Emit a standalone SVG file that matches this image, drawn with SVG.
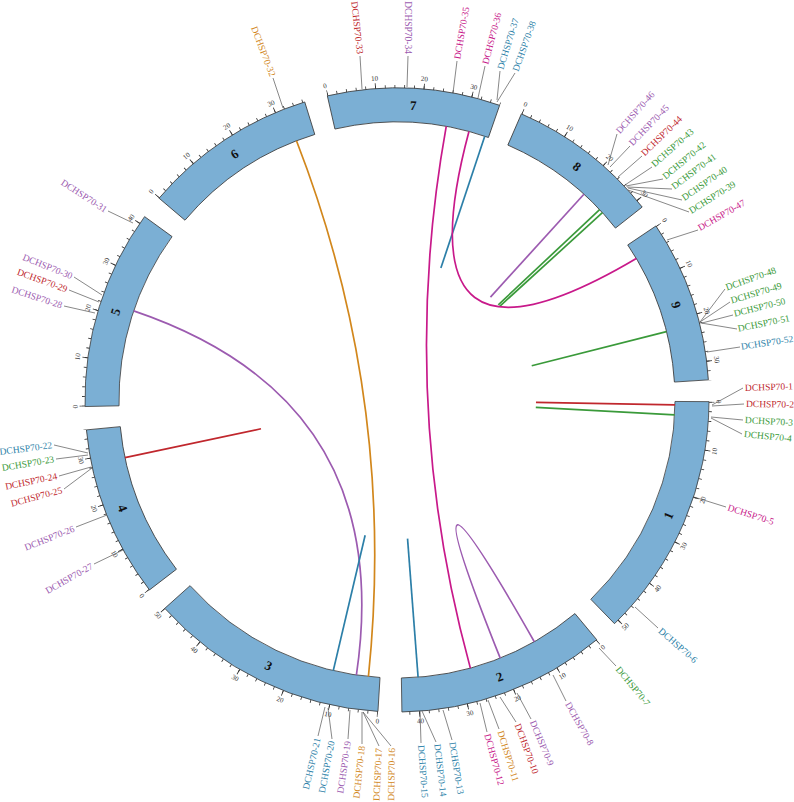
<svg xmlns="http://www.w3.org/2000/svg" width="794" height="802" viewBox="0 0 794 802">
<style>
.band{fill:none;stroke:#7BAFD4;stroke-width:34}
.ol{fill:none;stroke:#3c3c3c;stroke-width:0.8}
.tk{fill:none;stroke:#333;stroke-width:3}
.tkM{fill:none;stroke:#333;stroke-width:5.5}
.tl{font-family:"Liberation Serif",serif;font-size:7px;fill:#333;text-anchor:middle;dominant-baseline:central}
.sn{font-family:"Liberation Serif",serif;font-size:13px;font-weight:bold;fill:#111;text-anchor:middle;dominant-baseline:central}
.gl{font-family:"Liberation Serif",serif;font-size:9.5px;dominant-baseline:central}
.s{text-anchor:start}.e{text-anchor:end}
.ld{fill:none;stroke:#555;stroke-width:0.7}
.lk{fill:none;stroke-width:1.7}
.r{fill:#C0272D}.g{fill:#3A9A3A}.m{fill:#C8198A}.p{fill:#9C5BB0}.t{fill:#2C7FA8}.o{fill:#D2871C}
.kr{stroke:#C0272D}.kg{stroke:#3A9A3A}.km{stroke:#C8198A}.kp{stroke:#9C5BB0}.kt{stroke:#2C7FA8}.ko{stroke:#D2871C}
</style>
<defs>
<path id="c295" pathLength="360" d="M295 0A295 295 0 1 1 -295 0A295 295 0 1 1 295 0"/>
<path id="c278" pathLength="360" d="M278 0A278 278 0 1 1 -278 0A278 278 0 1 1 278 0"/>
<path id="c312" pathLength="360" d="M312 0A312 312 0 1 1 -312 0A312 312 0 1 1 312 0"/>
<path id="ct1" pathLength="360" d="M313.5 0A313.5 313.5 0 1 1 -313.5 0A313.5 313.5 0 1 1 313.5 0"/>
<path id="ct2" pathLength="360" d="M314.75 0A314.75 314.75 0 1 1 -314.75 0A314.75 314.75 0 1 1 314.75 0"/>
<path id="cm" pathLength="360" d="M316 0A316 316 0 1 1 -316 0A316 316 0 1 1 316 0"/>
<mask id="m1" maskUnits="userSpaceOnUse" x="-400" y="-400" width="800" height="800"><use href="#cm" fill="none" stroke="#fff" stroke-width="14" stroke-dasharray="45.6 400"/></mask>
<mask id="m2" maskUnits="userSpaceOnUse" x="-400" y="-400" width="800" height="800"><use href="#cm" fill="none" stroke="#fff" stroke-width="14" stroke-dasharray="39.0 400"/></mask>
<mask id="m3" maskUnits="userSpaceOnUse" x="-400" y="-400" width="800" height="800"><use href="#cm" fill="none" stroke="#fff" stroke-width="14" stroke-dasharray="44.7 400"/></mask>
<mask id="m4" maskUnits="userSpaceOnUse" x="-400" y="-400" width="800" height="800"><use href="#cm" fill="none" stroke="#fff" stroke-width="14" stroke-dasharray="32.1 400"/></mask>
<mask id="m5" maskUnits="userSpaceOnUse" x="-400" y="-400" width="800" height="800"><use href="#cm" fill="none" stroke="#fff" stroke-width="14" stroke-dasharray="37.3 400"/></mask>
<mask id="m6" maskUnits="userSpaceOnUse" x="-400" y="-400" width="800" height="800"><use href="#cm" fill="none" stroke="#fff" stroke-width="14" stroke-dasharray="32.6 400"/></mask>
<mask id="m7" maskUnits="userSpaceOnUse" x="-400" y="-400" width="800" height="800"><use href="#cm" fill="none" stroke="#fff" stroke-width="14" stroke-dasharray="32.2 400"/></mask>
<mask id="m8" maskUnits="userSpaceOnUse" x="-400" y="-400" width="800" height="800"><use href="#cm" fill="none" stroke="#fff" stroke-width="14" stroke-dasharray="28.4 400"/></mask>
<mask id="m9" maskUnits="userSpaceOnUse" x="-400" y="-400" width="800" height="800"><use href="#cm" fill="none" stroke="#fff" stroke-width="14" stroke-dasharray="30.3 400"/></mask>
</defs>
<rect width="794" height="802" fill="#fff"/>

<g id="chr1" transform="translate(397 400) rotate(0.3)">
<use href="#c295" class="band" stroke-dasharray="45.5 400"/>
<g mask="url(#m1)"><use href="#ct1" class="tk" stroke-dasharray="0.15 1.63"/><use href="#ct2" class="tkM" stroke-dasharray="0.15 8.75"/></g>
<use href="#c278" class="ol" stroke-dasharray="45.5 400"/><use href="#c312" class="ol" stroke-dasharray="45.5 400"/>
<line x1="278" x2="312" class="ol"/><line x1="278" x2="312" class="ol" transform="rotate(45.5)"/>
<text class="tl" transform="rotate(0) translate(322 0) rotate(-90)">0</text>
<text class="tl" transform="rotate(8.9) translate(322 0) rotate(-90)">10</text>
<text class="tl" transform="rotate(17.8) translate(322 0) rotate(-90)">20</text>
<text class="tl" transform="rotate(26.7) translate(322 0) rotate(-90)">30</text>
<text class="tl" transform="rotate(35.6) translate(322 0) rotate(-90)">40</text>
<text class="tl" transform="rotate(44.5) translate(322 0) rotate(-90)">50</text>
<text class="sn" transform="rotate(22.75) translate(295 0) rotate(-90)">1</text>
</g>

<g id="chr2" transform="translate(397 400) rotate(50.2)">
<use href="#c295" class="band" stroke-dasharray="38.9 400"/>
<g mask="url(#m2)"><use href="#ct1" class="tk" stroke-dasharray="0.15 1.63"/><use href="#ct2" class="tkM" stroke-dasharray="0.15 8.75"/></g>
<use href="#c278" class="ol" stroke-dasharray="38.9 400"/><use href="#c312" class="ol" stroke-dasharray="38.9 400"/>
<line x1="278" x2="312" class="ol"/><line x1="278" x2="312" class="ol" transform="rotate(38.9)"/>
<text class="tl" transform="rotate(0) translate(322 0) rotate(-90)">0</text>
<text class="tl" transform="rotate(8.9) translate(322 0) rotate(-90)">10</text>
<text class="tl" transform="rotate(17.8) translate(322 0) rotate(-90)">20</text>
<text class="tl" transform="rotate(26.7) translate(322 0) rotate(-90)">30</text>
<text class="tl" transform="rotate(35.6) translate(322 0) rotate(-90)">40</text>
<text class="sn" transform="rotate(19.45) translate(295 0) rotate(-90)">2</text>
</g>

<g id="chr3" transform="translate(397 400) rotate(93.5)">
<use href="#c295" class="band" stroke-dasharray="44.6 400"/>
<g mask="url(#m3)"><use href="#ct1" class="tk" stroke-dasharray="0.15 1.63"/><use href="#ct2" class="tkM" stroke-dasharray="0.15 8.75"/></g>
<use href="#c278" class="ol" stroke-dasharray="44.6 400"/><use href="#c312" class="ol" stroke-dasharray="44.6 400"/>
<line x1="278" x2="312" class="ol"/><line x1="278" x2="312" class="ol" transform="rotate(44.6)"/>
<text class="tl" transform="rotate(0) translate(322 0) rotate(-90)">0</text>
<text class="tl" transform="rotate(8.9) translate(322 0) rotate(-90)">10</text>
<text class="tl" transform="rotate(17.8) translate(322 0) rotate(-90)">20</text>
<text class="tl" transform="rotate(26.7) translate(322 0) rotate(-90)">30</text>
<text class="tl" transform="rotate(35.6) translate(322 0) rotate(-90)">40</text>
<text class="tl" transform="rotate(44.5) translate(322 0) rotate(-90)">50</text>
<text class="sn" transform="rotate(22.3) translate(295 0) rotate(-90)">3</text>
</g>

<g id="chr4" transform="translate(397 400) rotate(142.5)">
<use href="#c295" class="band" stroke-dasharray="32 400"/>
<g mask="url(#m4)"><use href="#ct1" class="tk" stroke-dasharray="0.15 1.63"/><use href="#ct2" class="tkM" stroke-dasharray="0.15 8.75"/></g>
<use href="#c278" class="ol" stroke-dasharray="32 400"/><use href="#c312" class="ol" stroke-dasharray="32 400"/>
<line x1="278" x2="312" class="ol"/><line x1="278" x2="312" class="ol" transform="rotate(32)"/>
<text class="tl" transform="rotate(0) translate(322 0) rotate(-90)">0</text>
<text class="tl" transform="rotate(8.9) translate(322 0) rotate(-90)">10</text>
<text class="tl" transform="rotate(17.8) translate(322 0) rotate(-90)">20</text>
<text class="tl" transform="rotate(26.7) translate(322 0) rotate(-90)">30</text>
<text class="sn" transform="rotate(16) translate(295 0) rotate(-90)">4</text>
</g>

<g id="chr5" transform="translate(397 400) rotate(178.8)">
<use href="#c295" class="band" stroke-dasharray="37.2 400"/>
<g mask="url(#m5)"><use href="#ct1" class="tk" stroke-dasharray="0.15 1.63"/><use href="#ct2" class="tkM" stroke-dasharray="0.15 8.75"/></g>
<use href="#c278" class="ol" stroke-dasharray="37.2 400"/><use href="#c312" class="ol" stroke-dasharray="37.2 400"/>
<line x1="278" x2="312" class="ol"/><line x1="278" x2="312" class="ol" transform="rotate(37.2)"/>
<text class="tl" transform="rotate(0) translate(322 0) rotate(-90)">0</text>
<text class="tl" transform="rotate(8.9) translate(322 0) rotate(90)">10</text>
<text class="tl" transform="rotate(17.8) translate(322 0) rotate(90)">20</text>
<text class="tl" transform="rotate(26.7) translate(322 0) rotate(90)">30</text>
<text class="tl" transform="rotate(35.6) translate(322 0) rotate(90)">40</text>
<text class="sn" transform="rotate(18.6) translate(295 0) rotate(90)">5</text>
</g>

<g id="chr6" transform="translate(397 400) rotate(220.3)">
<use href="#c295" class="band" stroke-dasharray="32.5 400"/>
<g mask="url(#m6)"><use href="#ct1" class="tk" stroke-dasharray="0.15 1.63"/><use href="#ct2" class="tkM" stroke-dasharray="0.15 8.75"/></g>
<use href="#c278" class="ol" stroke-dasharray="32.5 400"/><use href="#c312" class="ol" stroke-dasharray="32.5 400"/>
<line x1="278" x2="312" class="ol"/><line x1="278" x2="312" class="ol" transform="rotate(32.5)"/>
<text class="tl" transform="rotate(0) translate(322 0) rotate(90)">0</text>
<text class="tl" transform="rotate(8.9) translate(322 0) rotate(90)">10</text>
<text class="tl" transform="rotate(17.8) translate(322 0) rotate(90)">20</text>
<text class="tl" transform="rotate(26.7) translate(322 0) rotate(90)">30</text>
<text class="sn" transform="rotate(16.25) translate(295 0) rotate(90)">6</text>
</g>

<g id="chr7" transform="translate(397 400) rotate(257.1)">
<use href="#c295" class="band" stroke-dasharray="32.1 400"/>
<g mask="url(#m7)"><use href="#ct1" class="tk" stroke-dasharray="0.15 1.63"/><use href="#ct2" class="tkM" stroke-dasharray="0.15 8.75"/></g>
<use href="#c278" class="ol" stroke-dasharray="32.1 400"/><use href="#c312" class="ol" stroke-dasharray="32.1 400"/>
<line x1="278" x2="312" class="ol"/><line x1="278" x2="312" class="ol" transform="rotate(32.1)"/>
<text class="tl" transform="rotate(0) translate(322 0) rotate(90)">0</text>
<text class="tl" transform="rotate(8.9) translate(322 0) rotate(90)">10</text>
<text class="tl" transform="rotate(17.8) translate(322 0) rotate(90)">20</text>
<text class="tl" transform="rotate(26.7) translate(322 0) rotate(90)">30</text>
<text class="sn" transform="rotate(16.05) translate(295 0) rotate(90)">7</text>
</g>

<g id="chr8" transform="translate(397 400) rotate(293.5)">
<use href="#c295" class="band" stroke-dasharray="28.3 400"/>
<g mask="url(#m8)"><use href="#ct1" class="tk" stroke-dasharray="0.15 1.63"/><use href="#ct2" class="tkM" stroke-dasharray="0.15 8.75"/></g>
<use href="#c278" class="ol" stroke-dasharray="28.3 400"/><use href="#c312" class="ol" stroke-dasharray="28.3 400"/>
<line x1="278" x2="312" class="ol"/><line x1="278" x2="312" class="ol" transform="rotate(28.3)"/>
<text class="tl" transform="rotate(0) translate(322 0) rotate(90)">0</text>
<text class="tl" transform="rotate(8.9) translate(322 0) rotate(90)">10</text>
<text class="tl" transform="rotate(17.8) translate(322 0) rotate(90)">20</text>
<text class="tl" transform="rotate(26.7) translate(322 0) rotate(90)">30</text>
<text class="sn" transform="rotate(14.15) translate(295 0) rotate(90)">8</text>
</g>

<g id="chr9" transform="translate(397 400) rotate(326.1)">
<use href="#c295" class="band" stroke-dasharray="30.2 400"/>
<g mask="url(#m9)"><use href="#ct1" class="tk" stroke-dasharray="0.15 1.63"/><use href="#ct2" class="tkM" stroke-dasharray="0.15 8.75"/></g>
<use href="#c278" class="ol" stroke-dasharray="30.2 400"/><use href="#c312" class="ol" stroke-dasharray="30.2 400"/>
<line x1="278" x2="312" class="ol"/><line x1="278" x2="312" class="ol" transform="rotate(30.2)"/>
<text class="tl" transform="rotate(0) translate(322 0) rotate(90)">0</text>
<text class="tl" transform="rotate(8.9) translate(322 0) rotate(90)">10</text>
<text class="tl" transform="rotate(17.8) translate(322 0) rotate(90)">20</text>
<text class="tl" transform="rotate(26.7) translate(322 0) rotate(90)">30</text>
<text class="sn" transform="rotate(15.1) translate(295 0) rotate(90)">9</text>
</g>

<g id="links" class="lk">
<path class="kr" d="M674.96 404.85L535.98 402.43"/>
<path class="kg" d="M674.61 414.79L535.81 407.40"/>
<path class="kg" d="M666.45 331.57L531.73 365.79"/>
<path class="kp" d="M583.92 194.22L490.46 297.11"/>
<path class="kg" d="M599.60 209.64L498.30 304.82"/>
<path class="kg" d="M602.41 212.67L499.70 306.33"/>
<path class="kt" d="M484.75 136.21L440.87 268.10"/>
<path class="km" d="M636.29 258.49Q397 400 468.95 131.47"/>
<path class="km" d="M446.23 126.39Q397 400 470.36 668.15"/>
<path class="ko" d="M296.47 140.81Q397 400 368.42 676.53"/>
<path class="kp" d="M133.68 310.87Q397 400 356.39 675.02"/>
<path class="kr" d="M124.98 457.56L260.99 428.78"/>
<path class="kt" d="M333.28 670.60L365.14 535.30"/>
<path class="kt" d="M418.09 677.20L407.54 538.60"/>
<path class="kp" d="M534.31 641.72Q397 400 500.24 658.12"/>
</g>

<g id="labels">
<path class="ld" d="M712 405L743 388M712 406L744 404M711 417L743 420M711 418L742 434M694 497L726 507M635 607L658 628M599 648L616 666M553 675L566 701M517 693L531 719M500 697L516 722M488 700L499 729M480 703L487 732M443 710L452 740M422 711L436 742M420 711L421 743M363 712L391 746M363 712L379 746M362 712L362 744M350 710L348 739M328 708L332 739M325 707L318 736M88 453L54 445M88 455L56 459M91 467L59 476M92 468L64 489M107 515L76 527M123 550L94 564M95 313L64 306M99 302L69 290M102 295L74 277M133 223L108 211M283 108L273 78M362 89L360 56M407 87L408 56M453 93L457 61M478 98L485 66M497 100L500 71M497 102L515 73M608 165L617 134M610 167L630 146M618 177L642 156M625 185L652 167M626 186L663 179M627 187L672 189M628 188L682 200M628 190L689 212M667 240L698 230M700 322L725 289M700 322L730 302M702 323L733 315M701 323L737 329M707 352L740 347"/>
<text class="gl s r" x="744" y="388" dx="1" transform="rotate(-2 744 388)">DCHSP70-1</text>
<text class="gl s r" x="745" y="404" dx="1" transform="rotate(0.7 745 404)">DCHSP70-2</text>
<text class="gl s g" x="744" y="420" dx="1" transform="rotate(3.3 744 420)">DCHSP70-3</text>
<text class="gl s g" x="743" y="434" dx="1" transform="rotate(5.6 743 434)">DCHSP70-4</text>
<text class="gl s m" x="727" y="507" dx="1" transform="rotate(18 727 507)">DCHSP70-5</text>
<text class="gl s t" x="659" y="629" dx="1" transform="rotate(41.2 659 629)">DCHSP70-6</text>
<text class="gl s g" x="617" y="667" dx="1" transform="rotate(50.5 617 667)">DCHSP70-7</text>
<text class="gl s p" x="567" y="702" dx="1" transform="rotate(60.6 567 702)">DCHSP70-8</text>
<text class="gl s p" x="532" y="720" dx="1" transform="rotate(67.1 532 720)">DCHSP70-9</text>
<text class="gl s r" x="517" y="723" dx="1" transform="rotate(69.6 517 723)">DCHSP70-10</text>
<text class="gl s o" x="500" y="730" dx="1" transform="rotate(72.7 500 730)">DCHSP70-11</text>
<text class="gl s m" x="487" y="733" dx="1" transform="rotate(74.9 487 733)">DCHSP70-12</text>
<text class="gl s t" x="452" y="741" dx="1" transform="rotate(80.8 452 741)">DCHSP70-13</text>
<text class="gl s t" x="437" y="743" dx="1" transform="rotate(83.3 437 743)">DCHSP70-14</text>
<text class="gl s t" x="421" y="744" dx="1" transform="rotate(86 421 744)">DCHSP70-15</text>
<text class="gl e o" x="392" y="747" dx="-1" transform="rotate(-89.2 392 747)">DCHSP70-16</text>
<text class="gl e o" x="379" y="747" dx="-1" transform="rotate(-87.4 379 747)">DCHSP70-17</text>
<text class="gl e o" x="362" y="745" dx="-1" transform="rotate(-84.2 362 745)">DCHSP70-18</text>
<text class="gl e p" x="348" y="740" dx="-1" transform="rotate(-81.8 348 740)">DCHSP70-19</text>
<text class="gl e t" x="332" y="740" dx="-1" transform="rotate(-79.2 332 740)">DCHSP70-20</text>
<text class="gl e t" x="318" y="737" dx="-1" transform="rotate(-76.8 318 737)">DCHSP70-21</text>
<text class="gl e t" x="53" y="445" dx="-1" transform="rotate(-7.5 53 445)">DCHSP70-22</text>
<text class="gl e g" x="55" y="459" dx="-1" transform="rotate(-9.8 55 459)">DCHSP70-23</text>
<text class="gl e r" x="58" y="476" dx="-1" transform="rotate(-11.5 58 476)">DCHSP70-24</text>
<text class="gl e r" x="63" y="490" dx="-1" transform="rotate(-14.8 63 490)">DCHSP70-25</text>
<text class="gl e p" x="75" y="528" dx="-1" transform="rotate(-21.7 75 528)">DCHSP70-26</text>
<text class="gl e p" x="93" y="565" dx="-1" transform="rotate(-29.5 93 565)">DCHSP70-27</text>
<text class="gl e p" x="63" y="306" dx="-1" transform="rotate(18 63 306)">DCHSP70-28</text>
<text class="gl e r" x="68" y="290" dx="-1" transform="rotate(20 68 290)">DCHSP70-29</text>
<text class="gl e p" x="73" y="277" dx="-1" transform="rotate(22 73 277)">DCHSP70-30</text>
<text class="gl e p" x="107" y="211" dx="-1" transform="rotate(33.1 107 211)">DCHSP70-31</text>
<text class="gl e o" x="273" y="77" dx="-1" transform="rotate(69 273 77)">DCHSP70-32</text>
<text class="gl e r" x="360" y="55" dx="-1" transform="rotate(83.9 360 55)">DCHSP70-33</text>
<text class="gl e p" x="408" y="55" dx="-1" transform="rotate(90 408 55)">DCHSP70-34</text>
<text class="gl s m" x="457" y="60" dx="1" transform="rotate(-80 457 60)">DCHSP70-35</text>
<text class="gl s m" x="485" y="65" dx="1" transform="rotate(-75.3 485 65)">DCHSP70-36</text>
<text class="gl s t" x="500" y="70" dx="1" transform="rotate(-72.7 500 70)">DCHSP70-37</text>
<text class="gl s t" x="515" y="72" dx="1" transform="rotate(-70.2 515 72)">DCHSP70-38</text>
<text class="gl s p" x="617" y="133" dx="1" transform="rotate(-48 617 133)">DCHSP70-46</text>
<text class="gl s p" x="630" y="145" dx="1" transform="rotate(-46 630 145)">DCHSP70-45</text>
<text class="gl s r" x="642" y="155" dx="1" transform="rotate(-44 642 155)">DCHSP70-44</text>
<text class="gl s g" x="652" y="166" dx="1" transform="rotate(-41.5 652 166)">DCHSP70-43</text>
<text class="gl s g" x="663" y="178" dx="1" transform="rotate(-39.5 663 178)">DCHSP70-42</text>
<text class="gl s g" x="672" y="188" dx="1" transform="rotate(-37 672 188)">DCHSP70-41</text>
<text class="gl s g" x="682" y="199" dx="1" transform="rotate(-34.5 682 199)">DCHSP70-40</text>
<text class="gl s g" x="689" y="212" dx="1" transform="rotate(-32 689 212)">DCHSP70-39</text>
<text class="gl s m" x="698" y="229" dx="1" transform="rotate(-30 698 229)">DCHSP70-47</text>
<text class="gl s g" x="725" y="288" dx="1" transform="rotate(-19.5 725 288)">DCHSP70-48</text>
<text class="gl s g" x="730" y="301" dx="1" transform="rotate(-16.6 730 301)">DCHSP70-49</text>
<text class="gl s g" x="733" y="314" dx="1" transform="rotate(-14 733 314)">DCHSP70-50</text>
<text class="gl s g" x="737" y="329" dx="1" transform="rotate(-11.8 737 329)">DCHSP70-51</text>
<text class="gl s t" x="740" y="347" dx="1" transform="rotate(-8.8 740 347)">DCHSP70-52</text>
</g>
</svg>
